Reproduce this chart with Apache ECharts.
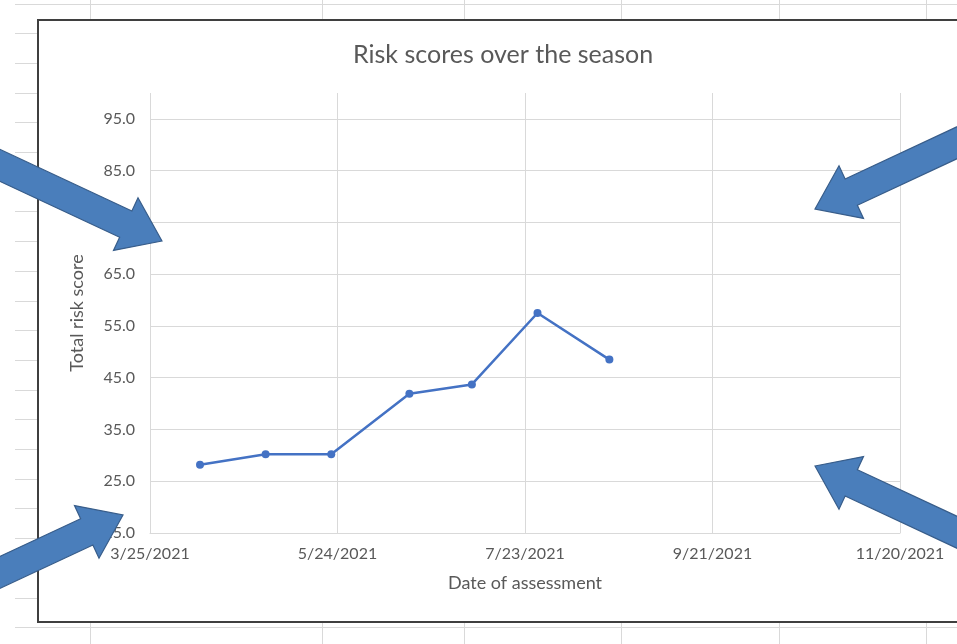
<!DOCTYPE html>
<html>
<head>
<meta charset="utf-8">
<script src="https://cdn.jsdelivr.net/npm/echarts@6/dist/echarts.min.js"></script>
<style>
html,body{margin:0;padding:0;background:#fff;overflow:hidden;}
#sheet{position:absolute;left:0;top:0;width:957px;height:644px;}
.vl{position:absolute;top:0;width:1px;height:644px;background:#d9d9d9;}
.hl{position:absolute;left:15px;width:942px;height:1px;background:#d9d9d9;}
#frame{position:absolute;left:37px;top:19px;width:940px;height:600px;border:2px solid #3f3f3f;background:#fff;}
#chart{position:absolute;left:0;top:0;width:957px;height:644px;}
</style>
</head>
<body>
<div id="sheet"></div>
<div id="frame"></div>
<div id="chart"></div>
<script>
// ---- data ----
const assessmentDates = ['2021-04-10','2021-05-01','2021-05-22','2021-06-16','2021-07-06','2021-07-27','2021-08-19'];
const riskScores = [28.2, 30.2, 30.2, 41.9, 43.7, 57.5, 48.5];
const xAxisStart = '2021-03-25';
const xAxisEnd = '2021-11-20';
const xTickDays = 60;
const yMin = 15, yMax = 100, yStep = 10;

// spreadsheet backdrop
const sheet = document.getElementById('sheet');
[90, 322, 464, 621, 779, 926].forEach(x => {
  const d = document.createElement('div'); d.className = 'vl'; d.style.left = x + 'px'; sheet.appendChild(d);
});
for (let i = 0; i < 23; i++) {
  const d = document.createElement('div'); d.className = 'hl';
  d.style.top = Math.round(3.5 + i * 29.7) + 'px'; sheet.appendChild(d);
}

// Excel serial helpers
function toSerial(s) {
  const [y, m, d] = s.split('-').map(Number);
  return Math.round((Date.UTC(y, m - 1, d) - Date.UTC(1899, 11, 30)) / 86400000);
}
function fromSerial(v) {
  const dt = new Date(Date.UTC(1899, 11, 30) + v * 86400000);
  return (dt.getUTCMonth() + 1) + '/' + dt.getUTCDate() + '/' + dt.getUTCFullYear();
}

const seriesData = assessmentDates.map((d, i) => [toSerial(d), riskScores[i]]);

// block arrow annotation shapes
function arrow(tipX, tipY, angleDeg, len, shaftW, headW, headL) {
  const a = angleDeg * Math.PI / 180;
  const ux = Math.cos(a), uy = Math.sin(a);
  const px = -uy, py = ux;
  const bx = tipX - ux * headL, by = tipY - uy * headL;
  const tx = tipX - ux * len, ty = tipY - uy * len;
  const pts = [
    [tipX, tipY],
    [bx + px * headW / 2, by + py * headW / 2],
    [bx + px * shaftW / 2, by + py * shaftW / 2],
    [tx + px * shaftW / 2, ty + py * shaftW / 2],
    [tx - px * shaftW / 2, ty - py * shaftW / 2],
    [bx - px * shaftW / 2, by - py * shaftW / 2],
    [bx - px * headW / 2, by - py * headW / 2]
  ];
  return {
    type: 'polygon', z: 100,
    shape: { points: pts },
    style: { fill: '#4A7EBB', stroke: '#385D8A', lineWidth: 1.2 }
  };
}

const gridColor = '#d9d9d9';
const txtColor = '#595959';
const font = 'Lato';

const yLineCount = Math.floor((yMax - yMin) / yStep) + 2;
const ySplitColors = [];
for (let i = 0; i < yLineCount; i++) ySplitColors.push(i === yLineCount - 1 ? 'rgba(0,0,0,0)' : gridColor);

const chart = echarts.init(document.getElementById('chart'), null, { renderer: 'canvas' });
chart.setOption({
  backgroundColor: 'transparent',
  animation: false,
  title: {
    text: 'Risk scores over the season',
    left: 348, top: 37,
    textStyle: { fontFamily: font, fontSize: 25, fontWeight: 'normal', color: txtColor }
  },
  grid: { left: 150, right: 57, top: 93, bottom: 111, containLabel: false },
  xAxis: {
    type: 'value',
    min: toSerial(xAxisStart), max: toSerial(xAxisEnd), interval: xTickDays,
    name: 'Date of assessment', nameLocation: 'middle', nameGap: 41,
    nameTextStyle: { fontFamily: font, fontSize: 18, color: txtColor },
    axisLine: { show: true, lineStyle: { color: gridColor, width: 1 } },
    axisTick: { show: false },
    splitLine: { show: true, lineStyle: { color: gridColor, width: 1 } },
    axisLabel: { fontFamily: font, fontSize: 16, color: txtColor, margin: 13, formatter: v => fromSerial(v) }
  },
  yAxis: {
    type: 'value',
    min: yMin, max: yMax, interval: yStep,
    name: 'Total risk score', nameLocation: 'middle', nameGap: 64, nameRotate: 90,
    nameTextStyle: { fontFamily: font, fontSize: 18, color: txtColor },
    axisLine: { show: false },
    axisTick: { show: false },
    splitLine: { show: true, lineStyle: { color: ySplitColors, width: 1 } },
    axisLabel: { fontFamily: font, fontSize: 16, color: txtColor, margin: 15, showMaxLabel: false,
      formatter: v => v.toFixed(1) }
  },
  series: [{
    type: 'line',
    data: seriesData,
    symbol: 'circle', symbolSize: 8,
    lineStyle: { color: '#4472C4', width: 2.5 },
    itemStyle: { color: '#4472C4' }
  }],
  graphic: [
    arrow(162, 241, 25, 200, 29, 58, 40),
    arrow(815, 209, 155, 200, 29, 58, 40),
    arrow(815, 466, 205, 200, 29, 58, 40),
    arrow(123, 515, -25, 200, 29, 58, 40)
  ]
});
</script>
</body>
</html>
